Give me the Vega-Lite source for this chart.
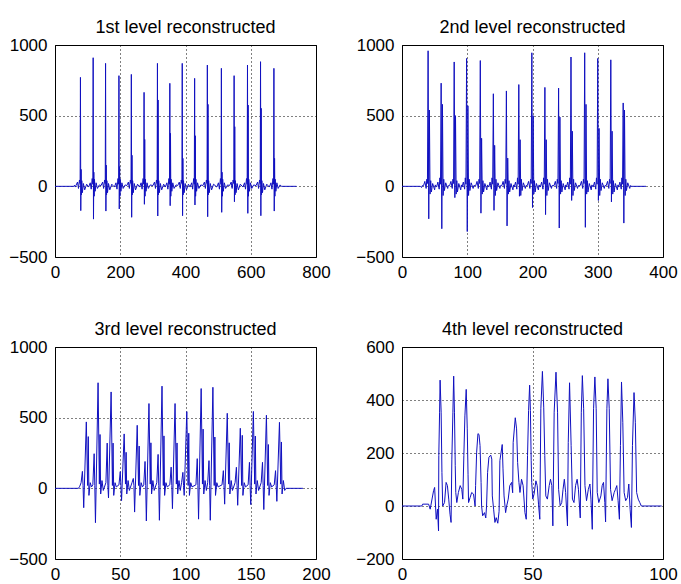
{
"$schema":"https://vega.github.io/schema/vega-lite/v6.json",
"padding":{"left":8,"top":18,"right":0,"bottom":0},
"config":{"font":"Liberation Sans","view":{"stroke":"black","strokeWidth":1},
"axis":{"domain":false,"ticks":false,"grid":true,"gridColor":"black","gridDash":[1,3],"gridOpacity":1,"gridWidth":1,"labelFont":"Liberation Sans","labelFontSize":17,"labelColor":"black","labelFlush":false,"labelOverlap":false,"labelPadding":8,"title":null,"format":"d"},
"axisX":{"labelPadding":7},
"title":{"font":"Liberation Sans","fontSize":18,"fontWeight":"normal","color":"black","baseline":"alphabetic","offset":-1,"anchor":"middle"}},
"bounds":"flush",
"columns":2,
"spacing":{"row":90,"column":86},
"datasets":{
"a":[{"x":0,"y":0},{"x":58,"y":0},{"x":60,"y":8},{"x":62,"y":-5},
{"x":64,"y":5},{"x":69,"y":30},{"x":72,"y":-15},{"x":75,"y":45},{"x":77,"y":20},{"x":78,"y":771},{"x":79,"y":-172},{"x":80,"y":120},{"x":81,"y":-60},{"x":82,"y":40},{"x":84,"y":-45},{"x":87,"y":20},{"x":91,"y":-25},{"x":97,"y":15},
{"x":103,"y":-5},{"x":108,"y":25},{"x":111,"y":-20},{"x":114,"y":55},{"x":116,"y":15},{"x":117,"y":910},{"x":118,"y":-232},{"x":119,"y":100},{"x":120,"y":-70},{"x":121,"y":50},{"x":123,"y":-35},{"x":126,"y":25},{"x":130,"y":-15},{"x":136,"y":10},
{"x":141,"y":5},{"x":146,"y":30},{"x":149,"y":-15},{"x":152,"y":45},{"x":154,"y":20},{"x":155,"y":870},{"x":156,"y":-175},{"x":157,"y":150},{"x":158,"y":-60},{"x":159,"y":40},{"x":161,"y":-45},{"x":164,"y":20},{"x":168,"y":-25},{"x":174,"y":15},
{"x":182,"y":-5},{"x":187,"y":25},{"x":190,"y":-20},{"x":193,"y":55},{"x":195,"y":15},{"x":196,"y":783},{"x":197,"y":-160},{"x":198,"y":140},{"x":199,"y":-70},{"x":200,"y":50},{"x":202,"y":-35},{"x":205,"y":25},{"x":209,"y":-15},{"x":215,"y":10},
{"x":220,"y":5},{"x":225,"y":30},{"x":228,"y":-15},{"x":231,"y":45},{"x":233,"y":20},{"x":234,"y":792},{"x":235,"y":-219},{"x":236,"y":220},{"x":237,"y":-60},{"x":238,"y":40},{"x":240,"y":-45},{"x":243,"y":20},{"x":247,"y":-25},{"x":253,"y":15},
{"x":259,"y":-5},{"x":264,"y":25},{"x":267,"y":-20},{"x":270,"y":55},{"x":272,"y":15},{"x":273,"y":665},{"x":274,"y":-127},{"x":275,"y":332},{"x":276,"y":-70},{"x":277,"y":50},{"x":279,"y":-35},{"x":282,"y":25},{"x":286,"y":-15},{"x":292,"y":10},
{"x":300,"y":5},{"x":305,"y":30},{"x":308,"y":-15},{"x":311,"y":45},{"x":313,"y":20},{"x":314,"y":870},{"x":315,"y":-210},{"x":316,"y":611},{"x":317,"y":-60},{"x":318,"y":40},{"x":320,"y":-45},{"x":323,"y":20},{"x":327,"y":-25},{"x":333,"y":15},
{"x":338,"y":-5},{"x":343,"y":25},{"x":346,"y":-20},{"x":349,"y":55},{"x":351,"y":15},{"x":352,"y":729},{"x":353,"y":-137},{"x":354,"y":375},{"x":355,"y":-70},{"x":356,"y":50},{"x":358,"y":-35},{"x":361,"y":25},{"x":365,"y":-15},{"x":371,"y":10},
{"x":376,"y":5},{"x":381,"y":30},{"x":384,"y":-15},{"x":387,"y":45},{"x":389,"y":20},{"x":390,"y":870},{"x":391,"y":-208},{"x":392,"y":198},{"x":393,"y":-60},{"x":394,"y":40},{"x":396,"y":-45},{"x":399,"y":20},{"x":403,"y":-25},{"x":409,"y":15},
{"x":414,"y":-5},{"x":419,"y":25},{"x":422,"y":-20},{"x":425,"y":55},{"x":427,"y":15},{"x":428,"y":764},{"x":429,"y":-132},{"x":430,"y":358},{"x":431,"y":-70},{"x":432,"y":50},{"x":434,"y":-35},{"x":437,"y":25},{"x":441,"y":-15},{"x":447,"y":10},
{"x":453,"y":5},{"x":458,"y":30},{"x":461,"y":-15},{"x":464,"y":45},{"x":466,"y":20},{"x":467,"y":858},{"x":468,"y":-215},{"x":469,"y":580},{"x":470,"y":-60},{"x":471,"y":40},{"x":473,"y":-45},{"x":476,"y":20},{"x":480,"y":-25},{"x":486,"y":15},
{"x":496,"y":-5},{"x":501,"y":25},{"x":504,"y":-20},{"x":507,"y":55},{"x":509,"y":15},{"x":510,"y":835},{"x":511,"y":-184},{"x":512,"y":100},{"x":513,"y":-70},{"x":514,"y":50},{"x":516,"y":-35},{"x":519,"y":25},{"x":523,"y":-15},{"x":529,"y":10},
{"x":535,"y":5},{"x":540,"y":30},{"x":543,"y":-15},{"x":546,"y":45},{"x":548,"y":20},{"x":549,"y":783},{"x":550,"y":-109},{"x":551,"y":422},{"x":552,"y":-60},{"x":553,"y":40},{"x":555,"y":-45},{"x":558,"y":20},{"x":562,"y":-25},{"x":568,"y":15},
{"x":576,"y":-5},{"x":581,"y":25},{"x":584,"y":-20},{"x":587,"y":55},{"x":589,"y":15},{"x":590,"y":858},{"x":591,"y":-191},{"x":592,"y":575},{"x":593,"y":-70},{"x":594,"y":50},{"x":596,"y":-35},{"x":599,"y":25},{"x":603,"y":-15},{"x":609,"y":10},
{"x":616,"y":5},{"x":621,"y":30},{"x":624,"y":-15},{"x":627,"y":45},{"x":629,"y":20},{"x":630,"y":882},{"x":631,"y":-208},{"x":632,"y":552},{"x":633,"y":-60},{"x":634,"y":40},{"x":636,"y":-45},{"x":639,"y":20},{"x":643,"y":-25},{"x":649,"y":15},
{"x":657,"y":-5},{"x":662,"y":25},{"x":665,"y":-20},{"x":668,"y":55},{"x":670,"y":15},{"x":671,"y":835},{"x":672,"y":-175},{"x":673,"y":198},{"x":674,"y":-70},{"x":675,"y":50},{"x":677,"y":-35},{"x":680,"y":25},{"x":684,"y":-15},{"x":690,"y":10},
{"x":694,"y":0},{"x":740,"y":0}],
"b":[{"x":0,"y":0},{"x":28,"y":0},{"x":30,"y":-8},{"x":31,"y":5},
{"x":33,"y":5},{"x":35,"y":35},{"x":37,"y":-15},{"x":38,"y":50},{"x":39,"y":20},{"x":40,"y":959},{"x":41,"y":-230},{"x":42,"y":540},{"x":43,"y":-55},{"x":44,"y":40},{"x":45,"y":-40},{"x":47,"y":20},{"x":50,"y":-25},{"x":51,"y":10},
{"x":53,"y":-5},{"x":55,"y":30},{"x":57,"y":-20},{"x":58,"y":60},{"x":59,"y":15},{"x":60,"y":730},{"x":61,"y":-300},{"x":62,"y":580},{"x":63,"y":-65},{"x":64,"y":50},{"x":65,"y":-30},{"x":67,"y":25},{"x":70,"y":-15},{"x":71,"y":5},
{"x":73,"y":5},{"x":75,"y":35},{"x":77,"y":-15},{"x":78,"y":50},{"x":79,"y":20},{"x":80,"y":880},{"x":81,"y":-80},{"x":82,"y":500},{"x":83,"y":-55},{"x":84,"y":40},{"x":85,"y":-40},{"x":87,"y":20},{"x":90,"y":-25},{"x":91,"y":10},
{"x":92,"y":-5},{"x":94,"y":30},{"x":96,"y":-20},{"x":97,"y":60},{"x":98,"y":15},{"x":99,"y":905},{"x":100,"y":-320},{"x":101,"y":570},{"x":102,"y":-65},{"x":103,"y":50},{"x":104,"y":-30},{"x":106,"y":25},{"x":109,"y":-15},{"x":110,"y":5},
{"x":113,"y":5},{"x":115,"y":35},{"x":117,"y":-15},{"x":118,"y":50},{"x":119,"y":20},{"x":120,"y":890},{"x":121,"y":-190},{"x":122,"y":340},{"x":123,"y":-55},{"x":124,"y":40},{"x":125,"y":-40},{"x":127,"y":20},{"x":130,"y":-25},{"x":131,"y":10},
{"x":133,"y":-5},{"x":135,"y":30},{"x":137,"y":-20},{"x":138,"y":60},{"x":139,"y":15},{"x":140,"y":655},{"x":141,"y":-170},{"x":142,"y":290},{"x":143,"y":-65},{"x":144,"y":50},{"x":145,"y":-30},{"x":147,"y":25},{"x":150,"y":-15},{"x":151,"y":5},
{"x":153,"y":5},{"x":155,"y":35},{"x":157,"y":-15},{"x":158,"y":50},{"x":159,"y":20},{"x":160,"y":675},{"x":161,"y":-280},{"x":162,"y":200},{"x":163,"y":-55},{"x":164,"y":40},{"x":165,"y":-40},{"x":167,"y":20},{"x":170,"y":-25},{"x":171,"y":10},
{"x":172,"y":-5},{"x":174,"y":30},{"x":176,"y":-20},{"x":177,"y":60},{"x":178,"y":15},{"x":179,"y":720},{"x":180,"y":-70},{"x":181,"y":330},{"x":182,"y":-65},{"x":183,"y":50},{"x":184,"y":-30},{"x":186,"y":25},{"x":189,"y":-15},{"x":190,"y":5},
{"x":192,"y":5},{"x":194,"y":35},{"x":196,"y":-15},{"x":197,"y":50},{"x":198,"y":20},{"x":199,"y":945},{"x":200,"y":-150},{"x":201,"y":500},{"x":202,"y":-55},{"x":203,"y":40},{"x":204,"y":-40},{"x":206,"y":20},{"x":209,"y":-25},{"x":210,"y":10},
{"x":212,"y":-5},{"x":214,"y":30},{"x":216,"y":-20},{"x":217,"y":60},{"x":218,"y":15},{"x":219,"y":700},{"x":220,"y":-200},{"x":221,"y":330},{"x":222,"y":-65},{"x":223,"y":50},{"x":224,"y":-30},{"x":226,"y":25},{"x":229,"y":-15},{"x":230,"y":5},
{"x":233,"y":5},{"x":235,"y":35},{"x":237,"y":-15},{"x":238,"y":50},{"x":239,"y":20},{"x":240,"y":695},{"x":241,"y":-295},{"x":242,"y":490},{"x":243,"y":-55},{"x":244,"y":40},{"x":245,"y":-40},{"x":247,"y":20},{"x":250,"y":-25},{"x":251,"y":10},
{"x":252,"y":-5},{"x":254,"y":30},{"x":256,"y":-20},{"x":257,"y":60},{"x":258,"y":15},{"x":259,"y":915},{"x":260,"y":-100},{"x":261,"y":390},{"x":262,"y":-65},{"x":263,"y":50},{"x":264,"y":-30},{"x":266,"y":25},{"x":269,"y":-15},{"x":270,"y":5},
{"x":273,"y":5},{"x":275,"y":35},{"x":277,"y":-15},{"x":278,"y":50},{"x":279,"y":20},{"x":280,"y":945},{"x":281,"y":-290},{"x":282,"y":580},{"x":283,"y":-55},{"x":284,"y":40},{"x":285,"y":-40},{"x":287,"y":20},{"x":290,"y":-25},{"x":291,"y":10},
{"x":293,"y":-5},{"x":295,"y":30},{"x":297,"y":-20},{"x":298,"y":60},{"x":299,"y":15},{"x":300,"y":905},{"x":301,"y":-100},{"x":302,"y":410},{"x":303,"y":-65},{"x":304,"y":50},{"x":305,"y":-30},{"x":307,"y":25},{"x":310,"y":-15},{"x":311,"y":5},
{"x":313,"y":5},{"x":315,"y":35},{"x":317,"y":-15},{"x":318,"y":50},{"x":319,"y":20},{"x":320,"y":895},{"x":321,"y":-110},{"x":322,"y":390},{"x":323,"y":-55},{"x":324,"y":40},{"x":325,"y":-40},{"x":327,"y":20},{"x":330,"y":-25},{"x":331,"y":10},
{"x":332,"y":-5},{"x":334,"y":30},{"x":336,"y":-20},{"x":337,"y":60},{"x":338,"y":15},{"x":339,"y":590},{"x":340,"y":-260},{"x":341,"y":540},{"x":342,"y":-65},{"x":343,"y":50},{"x":344,"y":-30},{"x":346,"y":25},{"x":349,"y":-15},{"x":350,"y":5},
{"x":352,"y":0},{"x":374,"y":0}],
"c":[{"x":0,"y":0},{"x":18,"y":0},{"x":19,"y":15},
{"x":20,"y":40},{"x":21,"y":120},{"x":21.5,"y":20},{"x":22,"y":-137},{"x":24,"y":470},{"x":25,"y":20},{"x":25.5,"y":366},{"x":26,"y":-50},{"x":27,"y":40},{"x":28,"y":10},
{"x":29,"y":25},{"x":30,"y":245},{"x":30.5,"y":20},{"x":31,"y":-243},{"x":33,"y":747},{"x":34,"y":30},{"x":34.5,"y":381},{"x":35,"y":-40},{"x":36,"y":55},{"x":37,"y":-15},
{"x":39,"y":40},{"x":40,"y":320},{"x":40.5,"y":20},{"x":41,"y":-68},{"x":43,"y":682},{"x":44,"y":20},{"x":44.5,"y":320},{"x":45,"y":-50},{"x":46,"y":40},{"x":47,"y":10},
{"x":49,"y":25},{"x":50,"y":118},{"x":50.5,"y":20},{"x":51,"y":-87},{"x":53,"y":385},{"x":54,"y":30},{"x":54.5,"y":255},{"x":55,"y":-40},{"x":56,"y":55},{"x":57,"y":-15},
{"x":59,"y":40},{"x":60,"y":70},{"x":60.5,"y":20},{"x":61,"y":-168},{"x":63,"y":446},{"x":64,"y":20},{"x":64.5,"y":299},{"x":65,"y":-50},{"x":66,"y":40},{"x":67,"y":10},
{"x":68,"y":25},{"x":69,"y":190},{"x":69.5,"y":20},{"x":70,"y":-231},{"x":72,"y":600},{"x":73,"y":30},{"x":73.5,"y":322},{"x":74,"y":-40},{"x":75,"y":55},{"x":76,"y":-15},
{"x":78,"y":40},{"x":79,"y":240},{"x":79.5,"y":20},{"x":80,"y":-226},{"x":82,"y":723},{"x":83,"y":20},{"x":83.5,"y":371},{"x":84,"y":-50},{"x":85,"y":40},{"x":86,"y":10},
{"x":88,"y":25},{"x":89,"y":150},{"x":89.5,"y":20},{"x":90,"y":-144},{"x":92,"y":600},{"x":93,"y":30},{"x":93.5,"y":321},{"x":94,"y":-40},{"x":95,"y":55},{"x":96,"y":-15},
{"x":97,"y":40},{"x":98,"y":113},{"x":98.5,"y":20},{"x":99,"y":-50},{"x":101,"y":543},{"x":102,"y":20},{"x":102.5,"y":390},{"x":103,"y":-50},{"x":104,"y":40},{"x":105,"y":10},
{"x":108,"y":25},{"x":109,"y":210},{"x":109.5,"y":20},{"x":110,"y":-218},{"x":112,"y":706},{"x":113,"y":30},{"x":113.5,"y":419},{"x":114,"y":-40},{"x":115,"y":55},{"x":116,"y":-15},
{"x":117,"y":40},{"x":118,"y":196},{"x":118.5,"y":20},{"x":119,"y":-226},{"x":121,"y":715},{"x":122,"y":20},{"x":122.5,"y":363},{"x":123,"y":-50},{"x":124,"y":40},{"x":125,"y":10},
{"x":128,"y":25},{"x":129,"y":125},{"x":129.5,"y":20},{"x":130,"y":-112},{"x":132,"y":531},{"x":133,"y":30},{"x":133.5,"y":322},{"x":134,"y":-40},{"x":135,"y":55},{"x":136,"y":-15},
{"x":138,"y":40},{"x":139,"y":149},{"x":139.5,"y":20},{"x":140,"y":-120},{"x":142,"y":425},{"x":143,"y":20},{"x":143.5,"y":375},{"x":144,"y":-50},{"x":145,"y":40},{"x":146,"y":10},
{"x":148,"y":25},{"x":149,"y":184},{"x":149.5,"y":20},{"x":150,"y":-115},{"x":152,"y":544},{"x":153,"y":30},{"x":153.5,"y":370},{"x":154,"y":-40},{"x":155,"y":55},{"x":156,"y":-15},
{"x":158,"y":40},{"x":159,"y":184},{"x":159.5,"y":20},{"x":160,"y":-150},{"x":162,"y":517},{"x":163,"y":20},{"x":163.5,"y":310},{"x":164,"y":-50},{"x":165,"y":40},{"x":166,"y":10},
{"x":168,"y":25},{"x":169,"y":125},{"x":169.5,"y":20},{"x":170,"y":-92},{"x":172,"y":467},{"x":173,"y":30},{"x":173.5,"y":328},{"x":174,"y":-40},{"x":175,"y":55},{"x":176,"y":-15},
{"x":177,"y":0},{"x":190,"y":0}],
"d":[{"x":0,"y":0},{"x":7.6,"y":0},{"x":7.9,"y":7},{"x":10.2,"y":7},{"x":10.8,"y":-12},{"x":12.1,"y":58},{"x":12.5,"y":70},{"x":13.1,"y":-50},{"x":13.6,"y":-12},{"x":14.0,"y":-94},{"x":14.1,"y":190},{"x":14.4,"y":354},{"x":14.6,"y":475},{"x":15.0,"y":354},{"x":15.3,"y":127},{"x":15.6,"y":0},{"x":16.3,"y":13},{"x":16.9,"y":89},{"x":17.4,"y":77},{"x":17.9,"y":26},{"x":18.4,"y":-31},{"x":18.8,"y":-62},
{"x":19.1,"y":177},{"x":19.5,"y":354},{"x":19.8,"y":490},{"x":20.1,"y":354},{"x":20.4,"y":152},{"x":20.6,"y":51},{"x":21.0,"y":13},{"x":21.6,"y":51},{"x":22.3,"y":77},{"x":22.9,"y":63},{"x":23.3,"y":26},
{"x":23.7,"y":190},{"x":24.1,"y":340},{"x":24.6,"y":440},{"x":25.0,"y":291},{"x":25.3,"y":120},{"x":25.5,"y":13},{"x":26.1,"y":32},{"x":26.7,"y":51},{"x":27.4,"y":45},{"x":28.0,"y":0},{"x":28.2,"y":77},
{"x":28.6,"y":203},{"x":29.1,"y":273},{"x":29.5,"y":270},{"x":29.9,"y":228},{"x":30.3,"y":89},{"x":30.5,"y":0},{"x":30.9,"y":-37},{"x":31.6,"y":-25},{"x":32.1,"y":-45},{"x":32.4,"y":0},
{"x":32.8,"y":127},{"x":33.3,"y":184},{"x":34.0,"y":192},{"x":34.4,"y":177},{"x":34.6,"y":38},{"x":35.1,"y":-12},{"x":35.6,"y":-62},{"x":36.1,"y":-44},{"x":36.7,"y":-65},{"x":37.2,"y":-20},
{"x":37.5,"y":171},{"x":38.4,"y":232},{"x":38.7,"y":140},{"x":39.1,"y":38},{"x":39.7,"y":-25},{"x":40.1,"y":0},{"x":40.7,"y":26},{"x":41.3,"y":77},{"x":42.0,"y":89},{"x":42.4,"y":50},
{"x":42.6,"y":240},{"x":43.4,"y":333},{"x":43.9,"y":291},{"x":44.3,"y":164},{"x":44.8,"y":89},{"x":45.2,"y":51},{"x":45.8,"y":101},{"x":46.4,"y":77},{"x":47.1,"y":-25},{"x":47.6,"y":-50},
{"x":48.1,"y":190},{"x":48.5,"y":360},{"x":48.9,"y":456},{"x":49.2,"y":360},{"x":49.5,"y":171},{"x":49.7,"y":89},{"x":50.1,"y":26},{"x":50.6,"y":45},{"x":51.3,"y":95},{"x":51.8,"y":77},{"x":52.3,"y":7},{"x":52.8,"y":-50},
{"x":53.2,"y":367},{"x":53.8,"y":508},{"x":54.3,"y":373},{"x":54.7,"y":190},{"x":55.1,"y":38},{"x":55.7,"y":26},{"x":56.4,"y":77},{"x":56.9,"y":101},{"x":57.4,"y":77},{"x":57.8,"y":-75},
{"x":58.3,"y":354},{"x":59.0,"y":505},{"x":59.6,"y":354},{"x":60.0,"y":63},{"x":60.6,"y":1},{"x":61.2,"y":13},{"x":61.7,"y":63},{"x":62.2,"y":101},{"x":62.7,"y":51},{"x":63.4,"y":-75},
{"x":63.7,"y":240},{"x":64.2,"y":465},{"x":64.8,"y":228},{"x":65.3,"y":26},{"x":65.9,"y":13},{"x":66.5,"y":77},{"x":67.1,"y":101},{"x":67.6,"y":63},{"x":68.3,"y":-45},
{"x":68.7,"y":354},{"x":69.1,"y":492},{"x":69.6,"y":367},{"x":70.1,"y":77},{"x":70.7,"y":20},{"x":71.4,"y":63},{"x":72.0,"y":83},{"x":72.4,"y":26},{"x":72.9,"y":-88},
{"x":73.4,"y":367},{"x":73.9,"y":487},{"x":74.4,"y":367},{"x":74.8,"y":51},{"x":75.4,"y":13},{"x":76.2,"y":38},{"x":76.7,"y":77},{"x":77.2,"y":89},{"x":77.7,"y":13},{"x":78.0,"y":-60},
{"x":78.5,"y":367},{"x":78.9,"y":480},{"x":79.4,"y":367},{"x":79.9,"y":63},{"x":80.5,"y":20},{"x":81.3,"y":51},{"x":81.8,"y":63},{"x":82.3,"y":77},{"x":82.8,"y":20},{"x":83.3,"y":-50},
{"x":83.7,"y":228},{"x":84.1,"y":468},{"x":84.6,"y":316},{"x":85.1,"y":51},{"x":85.7,"y":20},{"x":86.4,"y":32},{"x":86.9,"y":83},{"x":87.4,"y":-12},{"x":87.9,"y":-81},
{"x":88.3,"y":228},{"x":88.9,"y":428},{"x":89.4,"y":316},{"x":89.9,"y":51},{"x":90.5,"y":26},{"x":91.1,"y":13},{"x":91.7,"y":0},{"x":99.5,"y":0}]
},
"concat":[
{"width":261,"height":212,"title":"1st level reconstructed","data":{"name":"a"},
"mark":{"type":"line","color":"#1010c0","strokeWidth":1,"clip":true},
"encoding":{"x":{"field":"x","type":"quantitative","scale":{"domain":[0,800],"nice":false},"axis":{"values":[0,200,400,600,800]}},
"y":{"field":"y","type":"quantitative","scale":{"domain":[-500,1000],"nice":false},"axis":{"values":[-500,0,500,1000]}}}},
{"width":261,"height":212,"title":"2nd level reconstructed","data":{"name":"b"},
"mark":{"type":"line","color":"#1010c0","strokeWidth":1,"clip":true},
"encoding":{"x":{"field":"x","type":"quantitative","scale":{"domain":[0,400],"nice":false},"axis":{"values":[0,100,200,300,400]}},
"y":{"field":"y","type":"quantitative","scale":{"domain":[-500,1000],"nice":false},"axis":{"values":[-500,0,500,1000]}}}},
{"width":261,"height":212,"title":"3rd level reconstructed","data":{"name":"c"},
"mark":{"type":"line","color":"#1010c0","strokeWidth":1,"clip":true},
"encoding":{"x":{"field":"x","type":"quantitative","scale":{"domain":[0,200],"nice":false},"axis":{"values":[0,50,100,150,200]}},
"y":{"field":"y","type":"quantitative","scale":{"domain":[-500,1000],"nice":false},"axis":{"values":[-500,0,500,1000]}}}},
{"width":261,"height":212,"title":"4th level reconstructed","data":{"name":"d"},
"mark":{"type":"line","color":"#1010c0","strokeWidth":1,"clip":true},
"encoding":{"x":{"field":"x","type":"quantitative","scale":{"domain":[0,100],"nice":false},"axis":{"values":[0,50,100]}},
"y":{"field":"y","type":"quantitative","scale":{"domain":[-200,600],"nice":false},"axis":{"values":[-200,0,200,400,600]}}}}
]
}
